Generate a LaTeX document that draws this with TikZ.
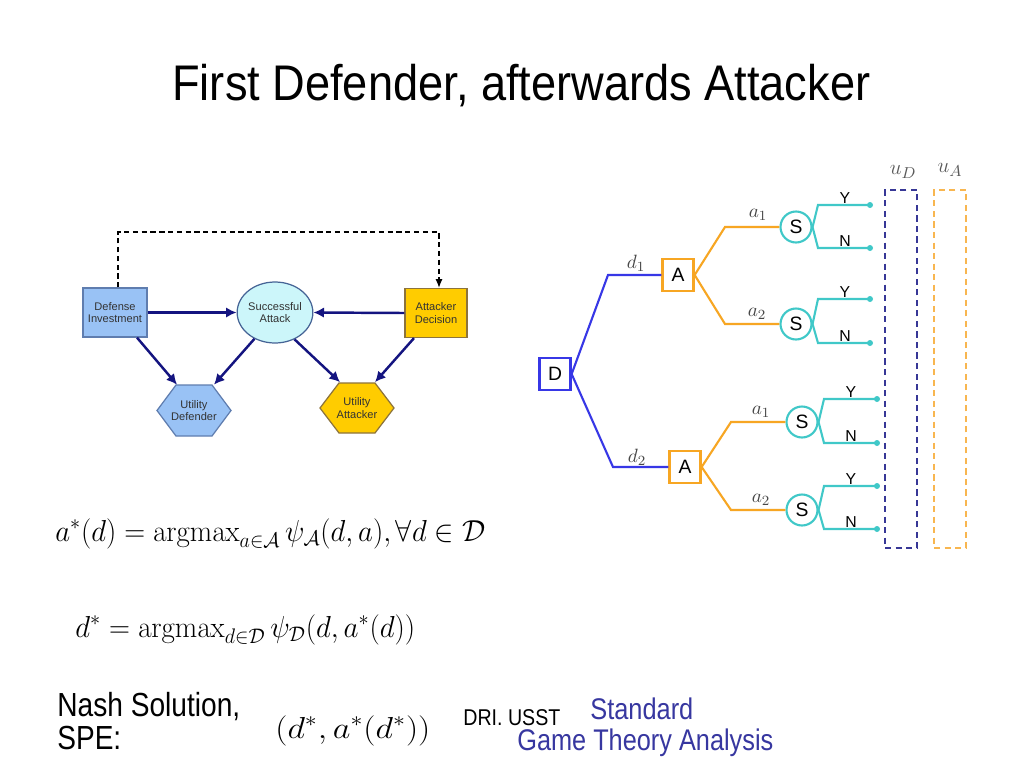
\documentclass[tikz,border=0pt]{standalone}
\usepackage{amsmath}
\usepackage[no-math]{fontspec}
\setmainfont{Liberation Sans}
\usepackage{graphicx}
\usetikzlibrary{arrows.meta,calc,shapes.geometric}
\definecolor{dicol}{RGB}{153,194,245}
\definecolor{diborder}{RGB}{95,125,175}
\definecolor{sacol}{RGB}{204,246,250}
\definecolor{saborder}{RGB}{70,100,150}
\definecolor{adcol}{RGB}{255,204,0}
\definecolor{adborder}{RGB}{140,115,60}
\definecolor{navyc}{RGB}{20,20,128}
\definecolor{treeblue}{RGB}{55,55,230}
\definecolor{treeorange}{RGB}{247,166,35}
\definecolor{treeteal}{RGB}{64,200,200}
\definecolor{udcol}{RGB}{55,55,150}
\definecolor{uacol}{RGB}{248,182,80}
\definecolor{footblue}{RGB}{55,55,160}
\definecolor{labgray}{RGB}{70,70,70}
\newcommand{\fitw}[2]{\resizebox{#1}{\height}{#2}}
\tikzset{
  lbox/.style={draw, line width=0.7pt, rectangle, align=center, inner sep=0pt,
    font=\fontsize{6.3}{7.2}\selectfont, text=black!80},
  hexnode/.style={rectangle, align=center, inner sep=0pt, minimum width=1.48cm,
    minimum height=1.02cm, font=\fontsize{6.3}{7.2}\selectfont, text=black!80},
  navyarrow/.style={draw=navyc, line width=1.4pt, -{Latex[length=6pt,width=6pt]}},
  dasharrow/.style={draw=black, line width=0.7pt, dash pattern=on 3pt off 2pt, -{Latex[length=5pt,width=4pt]}},
  treebox/.style={draw, line width=1.3pt, rectangle, inner sep=0pt, minimum width=0.62cm,
    minimum height=0.65cm, font=\fontsize{11}{12}\selectfont, fill=white},
  schance/.style={draw=treeteal, line width=1.2pt, circle, inner sep=0pt, minimum size=0.62cm,
    font=\fontsize{11}{12}\selectfont, fill=white},
  bline/.style={draw=treeblue, line width=1.2pt},
  oline/.style={draw=treeorange, line width=1.2pt},
  tline/.style={draw=treeteal, line width=1.2pt},
  leaf/.style={circle, fill=treeteal, inner sep=0pt, minimum size=0.12cm},
  yn/.style={anchor=base, inner sep=0pt, font=\fontsize{9}{10}\selectfont},
  mlab/.style={inner sep=0pt, text=labgray, font=\fontsize{11}{12}\selectfont},
  ubox/.style={rectangle, line width=0.9pt, dash pattern=on 3.5pt off 2.5pt, inner sep=0pt,
    minimum width=0.64cm, minimum height=7.16cm},
  txt/.style={anchor=base west, inner sep=0pt}
}
\begin{document}
\begin{tikzpicture}[x=0.02cm,y=-0.02cm]
\fill[white] (0,0) rectangle (1024,768);
\useasboundingbox (0,0) rectangle (1024,768);

% Title
\node[txt, font=\fontsize{28.5}{32}\selectfont] (title) at (172,100) {\fitw{13.96cm}{First Defender, afterwards Attacker}};

% ---------- influence diagram ----------
\filldraw[fill=dicol, draw=diborder, line width=0.7pt] (157,410.5) -- (176,385) -- (212,385) -- (231,410.5) -- (212,436) -- (176,436) -- cycle;
\filldraw[fill=adcol, draw=adborder, line width=0.7pt] (320,408) -- (339,383) -- (375,383) -- (394,408) -- (375,433) -- (339,433) -- cycle;
\node[lbox, fill=dicol, draw=diborder, minimum width=1.28cm, minimum height=0.98cm] (di) at (115,312.5) {Defense\\Investment};
\node[lbox, ellipse, fill=sacol, draw=saborder, minimum width=1.42cm, minimum height=1.22cm] (sa) at (275,312.5) {Successful\\Attack};
\node[lbox, fill=adcol, draw=adborder, minimum width=1.24cm, minimum height=0.98cm] (ad) at (436,313) {Attacker\\Decision};
\node[hexnode] (ud) at (194,410.5) {Utility\\Defender};
\node[hexnode] (ua) at (357,408) {Utility\\Attacker};

\coordinate (dtop) at (0,232);
\draw[dasharrow] ($(di.north)+(3,0)$) -- ($(di.north |- dtop)+(3,0)$) -- ($(ad.north |- dtop)+(3,0)$) -- ($(ad.north)+(3,0)$);
\draw[navyarrow] (di.east) -- (sa.west);
\draw[navyarrow] (ad.west) -- (sa.east);
\draw[navyarrow] ($(di.south)+(22,0)$) -- ($(ud.north)+(-17,0)$);
\draw[navyarrow] (sa.232) -- ($(ud.north)+(20,0)$);
\draw[navyarrow] (sa.306) -- ($(ua.north)+(-17,0)$);
\draw[navyarrow] ($(ad.south)+(-22,0)$) -- ($(ua.north)+(18,0)$);

% ---------- game tree ----------
\node[treebox, draw=treeblue] (D) at (555,374) {D};
\node[treebox, draw=treeorange] (A1) at (678,275) {A};
\node[treebox, draw=treeorange] (A2) at (685,467) {A};
\node[schance] (S1) at (796,227) {S};
\node[schance] (S2) at (796,324) {S};
\node[schance] (S3) at (802,422) {S};
\node[schance] (S4) at (802,510) {S};

\coordinate (k1) at (608,275);
\coordinate (k2) at (613,467);
\draw[bline] (D.east) -- (k1) -- (A1.west);
\draw[bline] (D.east) -- (k2) -- (A2.west);
\node[mlab] (ld1) at (636,263) {$d_1$};
\node[mlab] (ld2) at (637,457) {$d_2$};

\coordinate (k3) at (725,227);
\coordinate (k4) at (725,324);
\coordinate (k5) at (731,422);
\coordinate (k6) at (731,510);
\draw[oline] (A1.east) -- (k3) -- (S1.west);
\draw[oline] (A1.east) -- (k4) -- (S2.west);
\draw[oline] (A2.east) -- (k5) -- (S3.west);
\draw[oline] (A2.east) -- (k6) -- (S4.west);
\node[mlab] (la1) at (758,215) {$a_1$};
\node[mlab] (la2) at (757,314) {$a_2$};
\node[mlab] (la3) at (761,412) {$a_1$};
\node[mlab] (la4) at (761,500) {$a_2$};

% leaves
\node[leaf] (e1) at (870,205) {};
\node[leaf] (e2) at (870,248) {};
\node[leaf] (e3) at (870,299) {};
\node[leaf] (e4) at (870,343) {};
\node[leaf] (e5) at (877,399) {};
\node[leaf] (e6) at (877,443) {};
\node[leaf] (e7) at (877,486) {};
\node[leaf] (e8) at (877,529) {};
\draw[tline] (S1.east) -- (818,205) -- (e1.center);
\draw[tline] (S1.east) -- (818,248) -- (e2.center);
\draw[tline] (S2.east) -- (818,299) -- (e3.center);
\draw[tline] (S2.east) -- (818,343) -- (e4.center);
\draw[tline] (S3.east) -- (824,399) -- (e5.center);
\draw[tline] (S3.east) -- (824,443) -- (e6.center);
\draw[tline] (S4.east) -- (824,486) -- (e7.center);
\draw[tline] (S4.east) -- (824,529) -- (e8.center);
\node[yn] (y1) at (845,203) {Y};
\node[yn] (n1) at (845,246.5) {N};
\node[yn] (y2) at (845,297) {Y};
\node[yn] (n2) at (845,341.5) {N};
\node[yn] (y3) at (851,397) {Y};
\node[yn] (n3) at (851,441.5) {N};
\node[yn] (y4) at (851,484) {Y};
\node[yn] (n4) at (851,527.5) {N};

\node[ubox, draw=udcol] (uD) at (901,369) {};
\node[ubox, draw=uacol] (uA) at (950,369) {};
\node[mlab, text=black!65, font=\fontsize{13}{14}\selectfont] (luD) at (903,172) {$u_D$};
\node[mlab, text=black!65, font=\fontsize{13}{14}\selectfont] (luA) at (950,170) {$u_A$};

% ---------- formulas ----------
\node[txt, font=\fontsize{17}{20}\selectfont] (f1) at (55,541) {\fitw{8.6cm}{$a^*(d) = \mathrm{argmax}_{a\in\mathcal{A}}\,\psi_{\mathcal{A}}(d,a), \forall d \in \mathcal{D}$}};
\node[txt, font=\fontsize{17}{20}\selectfont] (f2) at (75,637) {\fitw{6.8cm}{$d^* = \mathrm{argmax}_{d\in\mathcal{D}}\,\psi_{\mathcal{D}}(d,a^*(d))$}};
\node[txt, font=\fontsize{17}{20}\selectfont] (f3) at (275,738) {\fitw{3.1cm}{$(d^*, a^*(d^*))$}};

% ---------- footer ----------
\node[txt, font=\fontsize{19}{22}\selectfont] (nash) at (57,716) {\fitw{3.66cm}{Nash Solution,}};
\node[txt, font=\fontsize{19}{22}\selectfont] (spe) at (57,749) {\scalebox{0.84}[1]{SPE:}};
\node[txt, font=\fontsize{13}{15}\selectfont] (dri) at (463,725) {\fitw{1.94cm}{DRI. USST}};
\node[txt, text=footblue, font=\fontsize{17}{20}\selectfont] (std) at (590,719) {\fitw{2.06cm}{Standard}};
\node[txt, text=footblue, font=\fontsize{17}{20}\selectfont] (gta) at (517,750) {\fitw{5.12cm}{Game Theory Analysis}};
\end{tikzpicture}
\end{document}
